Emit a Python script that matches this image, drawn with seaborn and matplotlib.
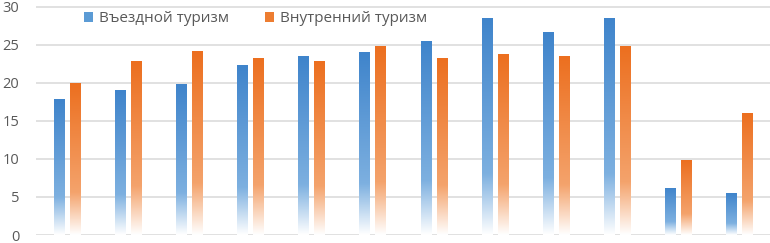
import matplotlib
matplotlib.use("Agg")
import matplotlib.pyplot as plt
from matplotlib.colors import to_rgb
from matplotlib.patches import Patch
import seaborn as sns
import numpy as np
import pandas as pd

# values (12 periods, no x labels shown)
periods = [str(i) for i in range(1, 13)]
series_names = ["Въездной туризм", "Внутренний туризм"]
inbound = [17.8, 19.0, 19.8, 22.3, 23.5, 24.0, 25.5, 28.5, 26.6, 28.5, 6.2, 5.5]
domestic = [19.9, 22.8, 24.1, 23.3, 22.8, 24.8, 23.2, 23.7, 23.5, 24.8, 9.8, 16.0]
y_ticks = [0, 5, 10, 15, 20, 25, 30]

# gradient colours: top, middle (bottom fades to white)
grad_colors = {
    series_names[0]: ("#3F84CB", "#7DB0E0"),
    series_names[1]: ("#EC6F1F", "#F4A36C"),
}
legend_colors = {series_names[0]: "#5B9BD5", series_names[1]: "#ED7D31"}

df = pd.DataFrame({
    "period": periods * 2,
    "value": inbound + domestic,
    "series": [series_names[0]] * len(periods) + [series_names[1]] * len(periods),
})

sns.set_style("white")
plt.rcParams["font.family"] = ["Open Sans", "DejaVu Sans"]

fig = plt.figure(figsize=(7.7, 2.43), dpi=100)
ax = fig.add_axes([36 / 770, 1 - 235 / 243, 1 - 36 / 770, 228.5 / 243])

sns.barplot(data=df, x="period", y="value", hue="series", hue_order=series_names,
            palette=legend_colors, width=0.525, gap=0.375, legend=False, ax=ax,
            errorbar=None)


def gradient_img(top, mid, n=200):
    top, mid = np.array(to_rgb(top)), np.array(to_rgb(mid))
    white = np.ones(3)
    img = np.zeros((n, 1, 3))
    for i in range(n):
        t = i / (n - 1)
        if t < 0.72:
            c = top + (mid - top) * (t / 0.72)
        else:
            c = mid + (white - mid) * ((t - 0.72) / 0.28)
        img[i, 0] = c
    return img


for name, cont in zip(series_names, ax.containers):
    img = gradient_img(*grad_colors[name])
    for bar in cont:
        x, w, h = bar.get_x(), bar.get_width(), bar.get_height()
        bar.set_facecolor("none")
        bar.set_edgecolor("none")
        im = ax.imshow(img, extent=[x, x + w, 0, h], origin="upper",
                       aspect="auto", zorder=2, interpolation="bilinear")
        im.set_clip_path(bar)

ax.set_xlim(-0.5, len(periods) - 0.5)
ax.set_ylim(0, 30)
ax.set_yticks(y_ticks)
ax.yaxis.grid(True, color="#D9D9D9", linewidth=1.1)
ax.set_axisbelow(True)
ax.set_xticks([])
ax.set_xlabel("")
ax.set_ylabel("")
for s in ax.spines.values():
    s.set_visible(False)
ax.tick_params(axis="y", length=0, pad=12, labelsize=10.5, labelcolor="#595959")

handles = [Patch(facecolor=legend_colors[n], edgecolor="none") for n in series_names]
fig.legend(handles, series_names, loc="center left",
           bbox_to_anchor=(84 / 770, 1 - 19 / 243), ncol=2, frameon=False,
           fontsize=11, labelcolor="#595959", handlelength=0.6, handleheight=0.6,
           handletextpad=0.35, columnspacing=2.4, borderpad=0, borderaxespad=0)

fig.savefig("out.png", dpi=100)
